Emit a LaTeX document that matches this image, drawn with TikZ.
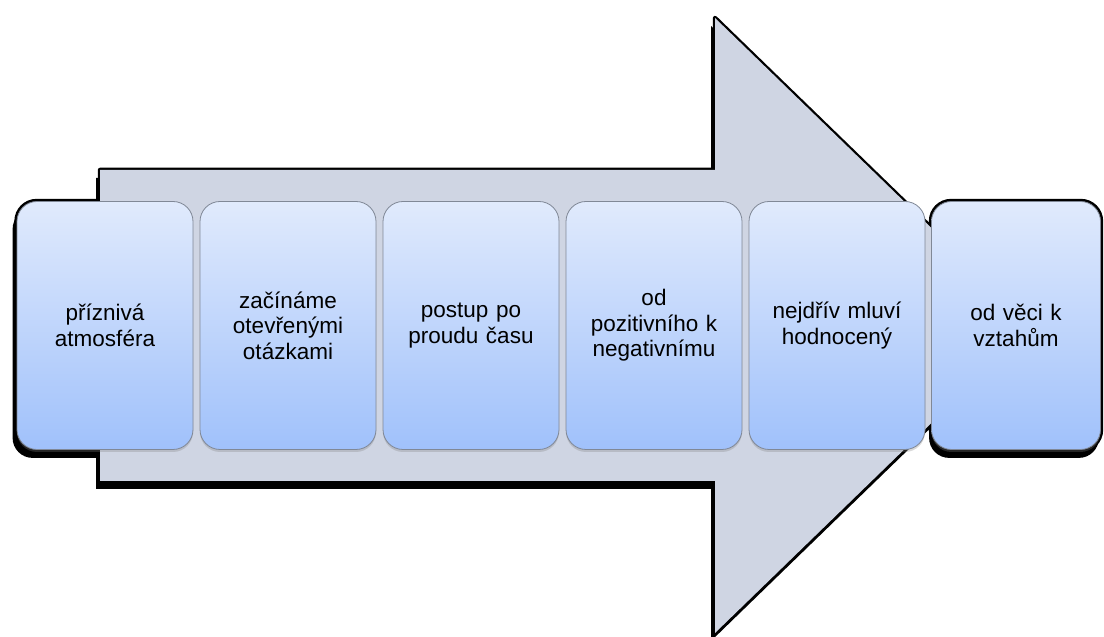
\documentclass[tikz,border=0pt]{standalone}
\usepackage{fontspec}
\setmainfont{Liberation Sans}
\usetikzlibrary{backgrounds,shadows}
\definecolor{sipkafill}{RGB}{207,213,227}
\definecolor{krokhore}{RGB}{224,234,252}
\definecolor{krokdole}{RGB}{160,193,251}
\definecolor{krokobrys}{RGB}{128,136,150}
\tikzset{
  krok/.style={rectangle, rounded corners=20pt, draw=krokobrys, line width=0.8pt,
    top color=krokhore, bottom color=krokdole, minimum width=176pt, minimum height=248pt,
    inner sep=2pt, text width=160pt, align=center,
    font=\fontsize{22.5}{25.5}\selectfont,
    drop shadow={shadow xshift=0pt, shadow yshift=-2.5pt, opacity=0.3}},  % kroky
  obrys/.style={draw=black, line width=4.5pt, line join=round},        % cerny okraj
  stin/.style={fill=black}                                             % stin pod sipkou
}

\begin{document}
\begin{tikzpicture}[x=1pt, y=1pt, node distance=183pt]
  \useasboundingbox (0,0) rectangle (1104,637);

  % kroky
  \node (K1) [krok] at (105,311.5) {příznivá\\atmosféra};
  \node (K2) [krok, right of=K1] {začínáme\\otevřenými\\otázkami};
  \node (K3) [krok, right of=K2] {postup po\\proudu času};
  \node (K4) [krok, right of=K3] {od\\pozitivního k\\negativnímu};
  \node (K5) [krok, right of=K4] {nejdřív mluví\\hodnocený};
  \node (K6) [krok, right of=K5, xshift=-4pt, minimum width=169pt] {od věci k\\vztahům};

  % sipka za kroky
  \begin{scope}[on background layer]
    \begin{scope}[shift={(-4,-8)}]
      \fill[stin] (100,156) -- (100,467) -- (715,467) -- (715,619) -- (1032,311.5)
        -- (715,4) -- (715,156) -- cycle;
    \end{scope}
    \fill[stin, rounded corners=20pt] ([xshift=-4pt,yshift=-8pt]K1.south west)
      rectangle ([xshift=-4pt,yshift=-8pt]K1.north east);
    \fill[stin, rounded corners=20pt] ([xshift=-2pt,yshift=-8pt]K6.south west)
      rectangle ([xshift=-2pt,yshift=-8pt]K6.north east);
    \draw[obrys] (100,156) -- (100,467) -- (715,467) -- (715,619) -- (1032,311.5)
      -- (715,4) -- (715,156) -- cycle;
    \draw[obrys, rounded corners=20pt] (K1.south west) rectangle (K1.north east);
    \draw[obrys, rounded corners=20pt] (K6.south west) rectangle (K6.north east);
    \fill[sipkafill] (100,156) -- (100,467) -- (715,467) -- (715,619) -- (1032,311.5)
      -- (715,4) -- (715,156) -- cycle;
  \end{scope}

\end{tikzpicture}
\end{document}
